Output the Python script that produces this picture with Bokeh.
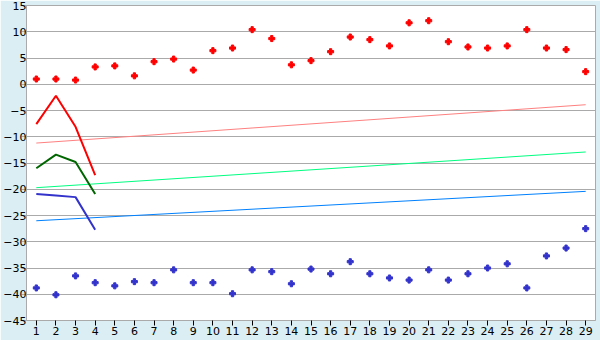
from bokeh.plotting import figure
from bokeh.models import Range1d, FixedTicker
from bokeh.embed import file_html
from bokeh.resources import INLINE

days = list(range(1, 30))
red_points = [1.0, 1.0, 0.8, 3.3, 3.5, 1.6, 4.3, 4.8, 2.7, 6.4, 6.9, 10.4, 8.7, 3.7, 4.5,
              6.2, 9.0, 8.5, 7.3, 11.7, 12.1, 8.1, 7.1, 6.9, 7.3, 10.4, 6.9, 6.6, 2.4]
blue_points = [-38.8, -40.1, -36.5, -37.8, -38.4, -37.6, -37.8, -35.35, -37.8, -37.8, -39.9,
               -35.35, -35.7, -38.0, -35.2, -36.1, -33.8, -36.1, -36.9, -37.3, -35.35, -37.3,
               -36.1, -35.0, -34.2, -38.8, -32.7, -31.2, -27.5]
short_days = [1, 2, 3, 4]
red_line = [-7.6, -2.2, -8.1, -17.3]
green_line = [-16.0, -13.4, -14.8, -20.9]
blue_line = [-20.9, -21.2, -21.5, -27.7]
trend_days = [1, 29]
red_trend = [-11.2, -3.9]
green_trend = [-19.7, -12.9]
blue_trend = [-26.0, -20.4]
y_ticks = list(range(-45, 20, 5))

p = figure(width=600, height=340, output_backend="svg", toolbar_location=None,
           x_range=Range1d(0.5, 29.5), y_range=Range1d(-45, 15))
p.min_border_left = 26
p.min_border_right = 5
p.min_border_top = 5
p.min_border_bottom = 20
p.border_fill_color = "#DAEEF4"
p.background_fill_color = "white"
p.outline_line_color = "#AAAAAA"

p.xgrid.grid_line_color = None
p.ygrid.grid_line_color = "#AAAAAA"
p.ygrid.ticker = FixedTicker(ticks=y_ticks)

p.xaxis.ticker = FixedTicker(ticks=days)
p.yaxis.ticker = FixedTicker(ticks=y_ticks)
for ax in (p.xaxis, p.yaxis):
    ax.axis_line_color = "#AAAAAA"
    ax.major_tick_in = 0
    ax.major_tick_out = 5
    ax.minor_tick_line_color = None
    ax.major_label_text_font = "DejaVu Sans"
    ax.major_label_text_font_size = "11px"
    ax.major_label_text_color = "black"
p.xaxis.major_label_standoff = 1
p.yaxis.major_label_standoff = -5
p.xaxis.major_tick_line_color = "black"
p.yaxis.major_tick_line_color = "#AAAAAA"

p.line(trend_days, red_trend, line_color="#FF8080", line_width=1)
p.line(trend_days, green_trend, line_color="#00FF80", line_width=1)
p.line(trend_days, blue_trend, line_color="#0080FF", line_width=1)

p.line(short_days, red_line, line_color="#FF0000", line_width=2)
p.line(short_days, green_line, line_color="#006600", line_width=2)
p.line(short_days, blue_line, line_color="#3333CC", line_width=2)

p.scatter(days, red_points, marker="plus", size=6, color="#FF0000")
p.scatter(days, blue_points, marker="plus", size=6, color="#3333CC")

open("out.html", "w").write(file_html(p, INLINE))
